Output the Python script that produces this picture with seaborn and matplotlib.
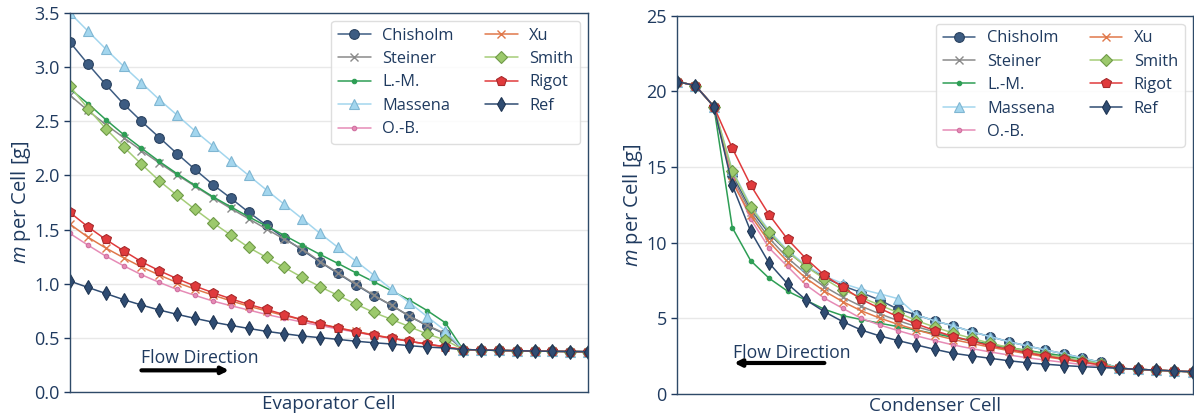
import matplotlib
matplotlib.use('Agg')
import matplotlib.pyplot as plt
import seaborn as sns

# cell index along each heat exchanger
evap_cells = list(range(30))
cond_cells = list(range(29))

# evaporator: refrigerant mass per cell [g]
evap_chisholm = [3.23, 3.03, 2.84, 2.66, 2.50, 2.35, 2.20, 2.055, 1.915, 1.79, 1.66, 1.54, 1.42, 1.31, 1.20,
                 1.095, 0.99, 0.89, 0.80, 0.70, 0.61, 0.535, 0.392, 0.388, 0.384, 0.381, 0.378, 0.376, 0.374, 0.372]
evap_steiner = [2.74, 2.60, 2.47, 2.35, 2.23, 2.115, 2.005, 1.90, 1.795, 1.695, 1.60, 1.505, 1.41, 1.32, 1.205,
                1.10, 0.995, 0.895, 0.80, 0.70, 0.615, 0.54, 0.392, 0.388, 0.384, 0.381, 0.378, 0.376, 0.374, 0.372]
evap_lm = [2.80, 2.664, 2.516, 2.378, 2.252, 2.129, 2.015, 1.907, 1.803, 1.71, 1.618, 1.532, 1.446, 1.357, 1.27,
           1.187, 1.101, 1.018, 0.935, 0.849, 0.751, 0.640, 0.392, 0.388, 0.384, 0.381, 0.378, 0.376, 0.374, 0.372]
evap_massena = [3.50, 3.334, 3.168, 3.008, 2.855, 2.70, 2.556, 2.41, 2.273, 2.135, 2.0, 1.865, 1.732, 1.60, 1.464,
                1.335, 1.209, 1.08, 0.948, 0.825, 0.695, 0.566, 0.392, 0.388, 0.384, 0.381, 0.378, 0.376, 0.374, 0.372]
evap_ob = [1.464, 1.357, 1.255, 1.166, 1.083, 1.012, 0.947, 0.892, 0.84, 0.797, 0.757, 0.716, 0.68, 0.646, 0.613,
           0.582, 0.552, 0.523, 0.495, 0.468, 0.442, 0.415, 0.392, 0.388, 0.384, 0.381, 0.378, 0.376, 0.374, 0.372]
evap_xu = [1.55, 1.43, 1.33, 1.24, 1.155, 1.08, 1.01, 0.95, 0.895, 0.842, 0.793, 0.748, 0.706, 0.666, 0.628,
           0.593, 0.56, 0.528, 0.498, 0.468, 0.44, 0.415, 0.392, 0.388, 0.384, 0.381, 0.378, 0.376, 0.374, 0.372]
evap_smith = [2.824, 2.618, 2.433, 2.264, 2.104, 1.95, 1.815, 1.686, 1.563, 1.449, 1.335, 1.243, 1.15, 1.058, 0.972,
              0.892, 0.812, 0.735, 0.67, 0.603, 0.535, 0.48, 0.392, 0.388, 0.384, 0.381, 0.378, 0.376, 0.374, 0.372]
evap_rigot = [1.658, 1.526, 1.409, 1.304, 1.203, 1.12, 1.046, 0.978, 0.917, 0.861, 0.809, 0.763, 0.714, 0.667, 0.627,
              0.591, 0.557, 0.523, 0.497, 0.468, 0.443, 0.418, 0.392, 0.388, 0.384, 0.381, 0.378, 0.376, 0.374, 0.372]
evap_ref = [1.024, 0.966, 0.91, 0.853, 0.803, 0.757, 0.717, 0.68, 0.645, 0.615, 0.587, 0.56, 0.538, 0.517, 0.502,
            0.486, 0.469, 0.455, 0.443, 0.428, 0.415, 0.406, 0.392, 0.388, 0.384, 0.381, 0.378, 0.376, 0.374, 0.372]

# condenser: refrigerant mass per cell [g]
cond_chisholm = [20.65, 20.38, 19.0, 14.5, 12.2, 10.6, 9.4, 8.45, 7.7, 7.15, 6.7, 6.21, 5.6, 5.23, 4.83,
                 4.50, 4.12, 3.79, 3.46, 3.18, 2.91, 2.66, 2.38, 2.09, 1.70, 1.63, 1.58, 1.52, 1.47]
cond_steiner = [20.65, 20.38, 19.0, 14.3, 12.0, 10.3, 9.0, 7.95, 7.1, 6.4, 5.8, 5.3, 4.85, 4.45, 4.1,
                3.8, 3.52, 3.26, 3.02, 2.8, 2.6, 2.4, 2.2, 2.02, 1.70, 1.63, 1.58, 1.52, 1.47]
cond_lm = [20.65, 20.38, 19.0, 11.0, 8.81, 7.65, 6.8, 6.2, 5.6, 5.18, 4.92, 4.68, 4.45, 4.22, 3.98,
           3.74, 3.51, 3.29, 3.08, 2.88, 2.7, 2.52, 2.33, 2.1, 1.70, 1.63, 1.58, 1.52, 1.47]
cond_massena = [20.65, 20.38, 19.0, 14.8, 12.45, 10.8, 9.5, 8.5, 7.8, 7.3, 6.92, 6.62, 6.3, 5.23, 4.83,
                4.50, 4.12, 3.79, 3.46, 3.18, 2.91, 2.66, 2.38, 2.09, 1.70, 1.63, 1.58, 1.52, 1.47]
cond_ob = [20.65, 20.38, 19.0, 14.2, 11.57, 9.65, 8.43, 7.21, 6.33, 5.66, 5.0, 4.56, 4.19, 3.84, 3.53,
           3.24, 3.0, 2.78, 2.58, 2.4, 2.24, 2.09, 1.95, 1.83, 1.70, 1.63, 1.58, 1.52, 1.47]
cond_xu = [20.65, 20.38, 19.0, 14.0, 11.8, 10.05, 8.75, 7.65, 6.8, 6.1, 5.5, 5.02, 4.6, 4.24, 3.9,
           3.6, 3.34, 3.1, 2.87, 2.66, 2.46, 2.28, 2.1, 1.93, 1.70, 1.63, 1.58, 1.52, 1.47]
cond_smith = [20.65, 20.38, 19.0, 14.73, 12.35, 10.71, 9.42, 8.43, 7.61, 6.88, 6.38, 5.88, 5.38, 4.85, 4.42,
              4.02, 3.68, 3.36, 3.08, 2.84, 2.6, 2.4, 2.2, 2.0, 1.70, 1.63, 1.58, 1.52, 1.47]
cond_rigot = [20.65, 20.38, 19.0, 16.25, 13.8, 11.85, 10.23, 8.95, 7.85, 7.06, 6.26, 5.66, 5.11, 4.63, 4.19,
              3.79, 3.50, 3.18, 2.95, 2.73, 2.52, 2.32, 2.12, 1.92, 1.70, 1.63, 1.58, 1.52, 1.47]
cond_ref = [20.65, 20.38, 19.0, 13.8, 10.75, 8.65, 7.28, 6.22, 5.44, 4.78, 4.23, 3.84, 3.53, 3.24, 2.95,
            2.69, 2.52, 2.36, 2.2, 2.07, 1.97, 1.88, 1.81, 1.75, 1.70, 1.63, 1.58, 1.52, 1.47]

names = ['Chisholm', 'Steiner', 'L.-M.', 'Massena', 'O.-B.', 'Xu', 'Smith', 'Rigot', 'Ref']
evap_series = [evap_chisholm, evap_steiner, evap_lm, evap_massena, evap_ob, evap_xu, evap_smith, evap_rigot, evap_ref]
cond_series = [cond_chisholm, cond_steiner, cond_lm, cond_massena, cond_ob, cond_xu, cond_smith, cond_rigot, cond_ref]

# line colour, marker, size, face, edge
styles = {
    'Chisholm': ('#3d5c82', 'o', 7, '#3d5c82', '#2a4260'),
    'Steiner': ('#8a8a8a', 'x', 6, '#8a8a8a', '#8a8a8a'),
    'L.-M.': ('#2e9e55', 'o', 3.2, '#2e9e55', '#2e9e55'),
    'Massena': ('#a3d6ee', '^', 7.5, '#a3d6ee', '#7fb6d2'),
    'O.-B.': ('#e68bb6', 'o', 3.2, '#e68bb6', '#d070a0'),
    'Xu': ('#e0784a', 'x', 6, '#e0784a', '#e0784a'),
    'Smith': ('#a5cd78', 'D', 6.5, '#9cc96c', '#6f9a48'),
    'Rigot': ('#e03a3c', 'p', 7.5, '#e03a3c', '#a82a2c'),
    'Ref': ('#2f4c72', 'd', 7, '#2f4c72', '#1f3553'),
}

text_col = '#1f3a5f'
spine_col = '#2e4a68'

sns.set_theme(style='white')
plt.rcParams['font.family'] = ['Open Sans', 'DejaVu Sans']
plt.rcParams['mathtext.fontset'] = 'custom'
plt.rcParams['mathtext.it'] = 'Open Sans:italic'
plt.rcParams['mathtext.rm'] = 'Open Sans'

fig = plt.figure(figsize=(11.94, 4.18), dpi=100)
ax1 = fig.add_axes([0.0586, 0.0622, 0.434, 0.9067])
ax2 = fig.add_axes([0.567, 0.0574, 0.432, 0.905])


def draw(ax, cells, series):
    for name, vals in zip(names, series):
        c, m, ms, fc, ec = styles[name]
        sns.lineplot(x=cells, y=vals, ax=ax, color=c, marker=m, markersize=ms,
                     markerfacecolor=fc, markeredgecolor=ec, markeredgewidth=0.8 if m != 'x' else 1.0,
                     linewidth=1.1, label=name)
    ax.set_xlim(cells[0], cells[-1])
    ax.set_xticks([])
    ax.yaxis.grid(True, color='#e8e8e8', lw=1)
    ax.xaxis.grid(False)
    ax.set_axisbelow(True)
    for s in ax.spines.values():
        s.set_color(spine_col)
        s.set_linewidth(1)
    ax.tick_params(axis='y', colors=text_col, labelsize=13, length=4, width=1, direction='out', left=True)
    ax.set_ylabel('$m$ per Cell [g]', color=text_col, fontsize=14.5, labelpad=1)
    leg = ax.legend(loc='upper right', ncol=2, fontsize=11.8, frameon=True, fancybox=True,
                    framealpha=0.85, edgecolor='#d9d9d9', columnspacing=1.9, handlelength=2.0,
                    handletextpad=0.7, labelspacing=0.45)
    for t in leg.get_texts():
        t.set_color(text_col)


draw(ax1, evap_cells, evap_series)
ax1.set_ylim(0, 3.5)
ax1.set_yticks([0, 0.5, 1.0, 1.5, 2.0, 2.5, 3.0, 3.5])
ax1.set_yticklabels([f'{v:.1f}' for v in [0, 0.5, 1.0, 1.5, 2.0, 2.5, 3.0, 3.5]])
ax1.set_xlabel('Evaporator Cell', color=text_col, fontsize=13.5, labelpad=2)
ax1.text(3.97, 0.31, 'Flow Direction', color=text_col, fontsize=12.7, va='center', ha='left')
ax1.annotate('', xy=(8.9, 0.2), xytext=(4.0, 0.2),
             arrowprops=dict(arrowstyle='-|>', color='black', lw=3, mutation_scale=10, shrinkA=0, shrinkB=0))

draw(ax2, cond_cells, cond_series)
ax2.set_ylim(0, 25)
ax2.set_yticks([0, 5, 10, 15, 20, 25])
ax2.set_xlabel('Condenser Cell', color=text_col, fontsize=13.5, labelpad=2)
ax2.text(3.04, 2.7, 'Flow Direction', color=text_col, fontsize=12.7, va='center', ha='left')
ax2.annotate('', xy=(3.1, 2.05), xytext=(8.0, 2.05),
             arrowprops=dict(arrowstyle='-|>', color='black', lw=3, mutation_scale=10, shrinkA=0, shrinkB=0))

fig.savefig('out.png', dpi=100, facecolor='white')
